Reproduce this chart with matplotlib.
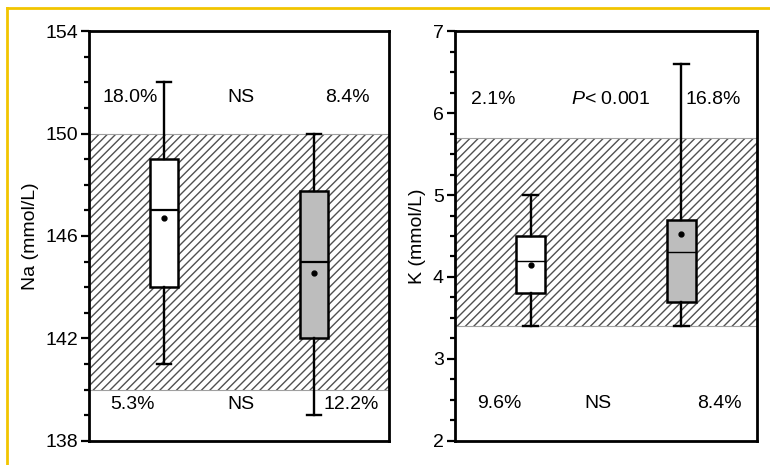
import matplotlib
matplotlib.use("Agg")
import matplotlib.pyplot as plt
from matplotlib.lines import Line2D
from matplotlib.ticker import MultipleLocator

plt.rcParams['font.family'] = ['Liberation Sans', 'DejaVu Sans']
plt.rcParams['mathtext.fontset'] = 'custom'
plt.rcParams['mathtext.rm'] = 'Liberation Sans'
plt.rcParams['mathtext.it'] = 'Liberation Sans:italic'
plt.rcParams['hatch.linewidth'] = 1.0

# Box summaries: whislo, q1, median, mean, q3, whishi
na_stats = [
    [141, 144, 147, 146.7, 149, 152],
    [139, 142, 145, 144.55, 147.75, 150],
]
k_stats = [
    [3.4, 3.8, 4.2, 4.14, 4.5, 5.0],
    [3.4, 3.7, 4.3, 4.53, 4.7, 6.6],
]
box_colors = ['white', '#bdbdbd']
na_range = (140, 150)
k_range = (3.4, 5.7)
na_ticks = [138, 142, 146, 150, 154]
k_ticks = [2, 3, 4, 5, 6, 7]

# annotations: (x, y, text)
na_labels = [(0.55, 151.4, '18.0%'), (2.03, 151.4, 'NS'), (3.45, 151.4, '8.4%'),
             (0.58, 139.4, '5.3%'), (2.03, 139.4, 'NS'), (3.5, 139.4, '12.2%')]
k_labels = [(0.5, 6.16, '2.1%'), (2.07, 6.16, r'$P$< 0.001'), (3.42, 6.16, '16.8%'),
            (0.58, 2.45, '9.6%'), (1.89, 2.45, 'NS'), (3.5, 2.45, '8.4%')]


def make_stats(rows):
    out = []
    for lo, q1, med, mean, q3, hi in rows:
        out.append(dict(whislo=lo, q1=q1, med=med, mean=mean, q3=q3, whishi=hi, fliers=[]))
    return out


def draw_panel(ax, rows, band, labels, ticks, minor, ylabel, med_lw):
    ax.axhspan(band[0], band[1], facecolor='white', edgecolor='#505050',
               hatch='////', linewidth=0, zorder=1)
    for v in band:
        ax.axhline(v, color='#a0a0a0', lw=0.8, zorder=1.5)
    bp = ax.bxp(make_stats(rows), positions=[1, 3], widths=0.38, showmeans=True,
                patch_artist=True, zorder=3,
                boxprops=dict(edgecolor='black', linewidth=1.8),
                whiskerprops=dict(color='black', linewidth=1.7),
                capprops=dict(color='black', linewidth=1.7),
                medianprops=dict(color='black', linewidth=med_lw),
                meanprops=dict(marker='o', markerfacecolor='black',
                               markeredgecolor='black', markersize=3.5))
    for patch, c in zip(bp['boxes'], box_colors):
        patch.set_facecolor(c)
    for x, y, t in labels:
        ax.text(x, y, t, ha='center', va='center', fontsize=14, zorder=4)
    ax.set_xlim(0, 4)
    ax.set_ylim(ticks[0], ticks[-1])
    ax.set_xticks([])
    ax.set_yticks(ticks)
    ax.yaxis.set_minor_locator(MultipleLocator(minor))
    ax.tick_params(axis='y', which='major', length=6, width=1.6, labelsize=14, pad=2)
    ax.tick_params(axis='y', which='minor', length=3.5, width=1.6)
    for s in ax.spines.values():
        s.set_linewidth(2)
    ax.set_ylabel(ylabel, fontsize=14, labelpad=5)


fig = plt.figure(figsize=(7.7, 4.65), dpi=100)
ax1 = fig.add_axes([0.116, 0.052, 0.389, 0.881])
ax2 = fig.add_axes([0.591, 0.052, 0.392, 0.881])

draw_panel(ax1, na_stats, na_range, na_labels, na_ticks, 1, 'Na (mmol/L)', 1.6)
draw_panel(ax2, k_stats, k_range, k_labels, k_ticks, 0.25, 'K (mmol/L)', 1.0)

# yellow frame lines
fig.add_artist(Line2D([0.009, 1.0], [0.983, 0.983], color='#f2c500', lw=2))
fig.add_artist(Line2D([0.009, 0.009], [0.0, 0.983], color='#f2c500', lw=2))

fig.savefig('out.png', dpi=100)
